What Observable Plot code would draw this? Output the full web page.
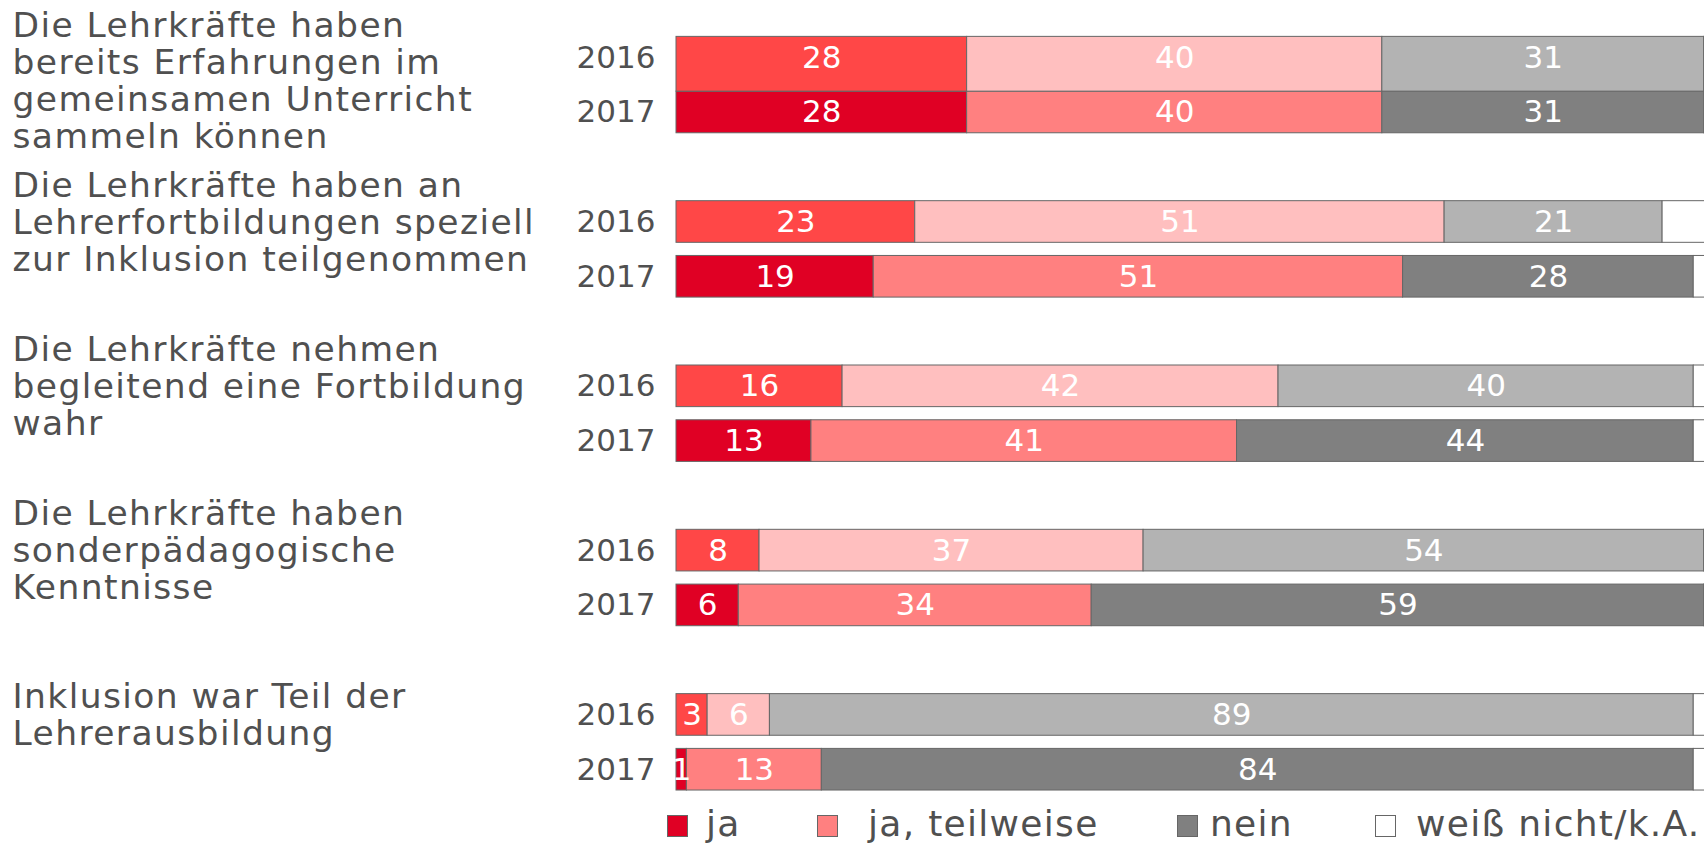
<!DOCTYPE html>
<html>
<head>
<meta charset="utf-8">
<script src="https://cdn.jsdelivr.net/npm/d3@7"></script>
<script src="https://cdn.jsdelivr.net/npm/@observablehq/plot@0.6"></script>
<style>
  html, body { margin: 0; padding: 0; background: #fff; }
  body { width: 1704px; height: 845px; overflow: hidden; position: relative; font-family: "DejaVu Sans", Verdana, sans-serif; }
  #chart { position: absolute; left: 0; top: 0; }
  #legend { position: absolute; left: 0; top: 800px; width: 1704px; height: 45px; }
  .sw { position: absolute; top: 15px; width: 19px; height: 20px; border: 1px solid #666; box-sizing: content-box; }
  .lt { position: absolute; top: 0; height: 48px; line-height: 48px; font-size: 36px; letter-spacing: 1.3px; color: #505050; white-space: nowrap; }
</style>
</head>
<body>
<div id="chart"></div>
<div id="legend"></div>
<script>
// ---- data ----
const categories = [
  "Die Lehrkräfte haben\nbereits Erfahrungen im\ngemeinsamen Unterricht\nsammeln können",
  "Die Lehrkräfte haben an\nLehrerfortbildungen speziell\nzur Inklusion teilgenommen",
  "Die Lehrkräfte nehmen\nbegleitend eine Fortbildung\nwahr",
  "Die Lehrkräfte haben\nsonderpädagogische\nKenntnisse",
  "Inklusion war Teil der\nLehrerausbildung"
];
const years = ["2016", "2017"];
const answers = ["ja", "ja, teilweise", "nein", "weiß nicht/k.A."];

const ja2016    = [28, 23, 16, 8, 3];
const ja2017    = [28, 19, 13, 6, 1];
const teil2016  = [40, 51, 42, 37, 6];
const teil2017  = [40, 51, 41, 34, 13];
const nein2016  = [31, 21, 40, 54, 89];
const nein2017  = [31, 28, 44, 59, 84];
const wn2016    = [1, 5, 2, 1, 2];
const wn2017    = [1, 2, 2, 1, 2];

const colors2016 = ["#FF4747", "#FFBFBF", "#B3B3B3", "#FFFFFF"];
const colors2017 = ["#E00024", "#FF8080", "#808080", "#FFFFFF"];

// ---- build table ----
const series = {
  "2016": [ja2016, teil2016, nein2016, wn2016],
  "2017": [ja2017, teil2017, nein2017, wn2017]
};
const palette = {"2016": colors2016, "2017": colors2017};
const key = (g, slot) => `g${g}|${slot}`;
const yDomain = [];
categories.forEach((c, g) => {
  yDomain.push(key(g, "2016"), key(g, "2017"));
  if (g < categories.length - 1) yDomain.push(key(g, "gap"));
});
const rows = [];
categories.forEach((c, g) => {
  years.forEach(yr => {
    answers.forEach((a, i) => {
      rows.push({group: g, year: yr, answer: a, value: series[yr][i][g],
                 key: key(g, yr), fill: palette[yr][i]});
    });
  });
});

// ---- layout ----
const W = 1704, H = 800;
const yOpts = {type: "band", domain: yDomain, range: [29.8, 796.6], paddingInner: 0.24, paddingOuter: 0.12, align: 0.5, round: false};
const yScale = Plot.scale({y: yOpts});
const gapPx = yScale.step - yScale.bandwidth;
const fs = 31;                 // year & value labels
const cfs = 34.5, clh = 1.072; // category labels
const labelMarks = categories.map((c, g) => {
  const nLines = c.split("\n").length;
  const center = yScale.apply(key(g, "2016")) + yScale.bandwidth / 2;
  const half = nLines * cfs * clh / 2;
  const dy = Math.max(0, half + 6 - center); // keep the block inside the top edge
  return Plot.text([c], {
    y: () => key(g, "2016"), text: d => d, frameAnchor: "left", textAnchor: "start",
    lineAnchor: "middle", lineHeight: clh, dx: -664, dy, fontSize: cfs, fill: "#505050"
  });
});

// the first 2016 bar in the reference runs down to the 2017 bar
const isFirst = d => d.group === 0 && d.year === "2016";

const chart = Plot.plot({
  width: W, height: H,
  marginLeft: 676, marginRight: 0, marginTop: 0, marginBottom: 0,
  style: {fontFamily: '"DejaVu Sans", Verdana, sans-serif', background: "#fff", overflow: "hidden"},
  x: {domain: [0, 100], range: [676, 1714], axis: null},
  y: {...yOpts, axis: null},
  color: {type: "identity"},
  marks: [
    Plot.barX(rows.filter(d => !isFirst(d)), Plot.stackX({x: "value", y: "key", fill: "fill", stroke: "#666", strokeWidth: 1, order: null})),
    Plot.barX(rows.filter(isFirst), Plot.stackX({x: "value", y: "key", fill: "fill", stroke: "#666", strokeWidth: 1, order: null, insetBottom: -gapPx})),
    Plot.text(rows, Plot.stackX({x: "value", y: "key", order: null,
      text: d => d.answer === "weiß nicht/k.A." ? null : String(d.value),
      fill: "#fff", fontSize: fs})),
    Plot.axisY({ticks: yDomain.filter(k => !k.endsWith("gap")), tickFormat: k => k.split("|")[1],
      tickSize: 0, tickPadding: 21, fontSize: fs, color: "#505050", label: null}),
    ...labelMarks
  ]
});
// widen the multi-line category labels (reference font runs wider)
chart.querySelectorAll("text").forEach(t => {
  if (t.querySelector("tspan")) t.style.letterSpacing = "1.4px";
});
document.getElementById("chart").appendChild(chart);

// ---- legend ----
const swatchLeft = [667, 817, 1177, 1375];
const textLeft = [706, 868, 1210, 1416];
const legend = document.getElementById("legend");
answers.forEach((a, i) => {
  const sw = document.createElement("div");
  sw.className = "sw";
  sw.style.left = swatchLeft[i] + "px";
  sw.style.background = colors2017[i];
  const tx = document.createElement("div");
  tx.className = "lt";
  tx.style.left = textLeft[i] + "px";
  tx.textContent = a;
  legend.appendChild(sw); legend.appendChild(tx);
});
</script>
</body>
</html>
